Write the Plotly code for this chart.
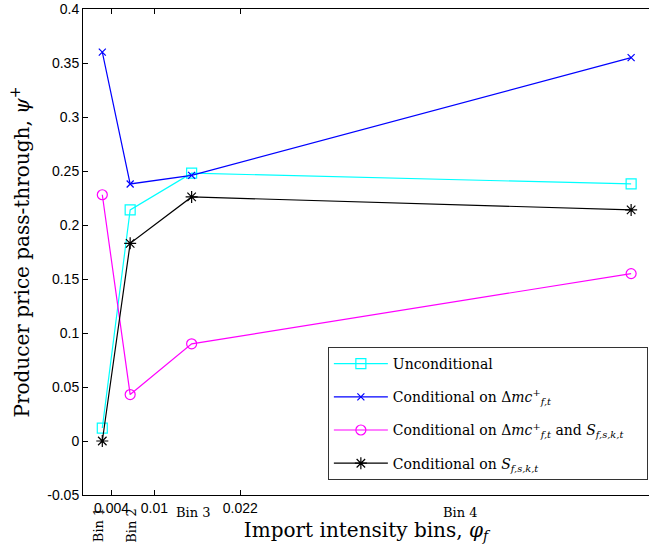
import plotly.graph_objects as go

# Bin positions on the import-intensity axis (phi_f)
bins_x = [0.0027, 0.0066, 0.0152, 0.0767]

# Producer price pass-through estimates per bin
unconditional = [0.012, 0.214, 0.248, 0.238]
cond_mc = [0.360, 0.238, 0.246, 0.355]
cond_mc_s = [0.228, 0.043, 0.090, 0.155]
cond_s = [0.0, 0.183, 0.226, 0.214]

x_tick_vals = [0.004, 0.01, 0.022]
x_tick_text = ["0.004", "0.01", "0.022"]
y_tick_vals = [-0.05, 0, 0.05, 0.1, 0.15, 0.2, 0.25, 0.3, 0.35, 0.4]
y_tick_text = ["-0.05", "0", "0.05", "0.1", "0.15", "0.2", "0.25", "0.3", "0.35", "0.4"]

bin_labels = ["Bin 1", "Bin 2", "Bin 3", "Bin 4"]
bin_label_x = [0.0021, 0.0068, 0.0154, 0.0528]

SERIF = "DejaVu Serif"
SANS = "Liberation Sans"

mc = "Δ<i>mc</i><sup>+</sup><sub><i>f,t</i></sub>"
sfskt = "<i>S</i><sub><i>f,s,k,t</i></sub>"

series = [
    ("Unconditional", unconditional, "#00FFFF", "square-open", 10),
    ("Conditional on " + mc, cond_mc, "#0000FF", "x-thin-open", 7),
    ("Conditional on " + mc + " and " + sfskt + "&nbsp;&nbsp;&nbsp;&nbsp;", cond_mc_s, "#FF00FF", "circle-open", 10),
    ("Conditional on " + sfskt, cond_s, "#000000", "asterisk-open", 10),
]

fig = go.Figure()
for i, (name, vals, color, sym, size) in enumerate(series):
    fig.add_trace(go.Scatter(
        x=bins_x, y=vals, name=name, mode="lines+markers",
        legendgroup=f"g{i}",
        line=dict(color=color, width=1.2),
        marker=dict(symbol=sym, size=size, color=color,
                    line=dict(color=color, width=1.2)),
    ))

# Bin labels under the x axis
for i, (lab, bx) in enumerate(zip(bin_labels, bin_label_x)):
    if i < 2:
        fig.add_annotation(x=bx, xref="x", y=-0.062, yref="paper",
                           text=lab, showarrow=False, textangle=-90,
                           font=dict(family=SERIF, size=13, color="black"),
                           xanchor="center", yanchor="middle")
    else:
        fig.add_annotation(x=bx, xref="x", y=-0.035, yref="paper",
                           text=lab, showarrow=False,
                           font=dict(family=SERIF, size=13, color="black"),
                           xanchor="center", yanchor="middle")

fig.update_layout(
    width=649, height=552,
    margin=dict(l=83, r=0, t=9, b=57),
    paper_bgcolor="white", plot_bgcolor="white",
    showlegend=True,
    legend=dict(
        x=0.998, y=0.3045, xanchor="right", yanchor="top",
        bgcolor="white", bordercolor="#333333", borderwidth=1,
        font=dict(family=SERIF, size=14, color="black"),
        tracegroupgap=12, traceorder="grouped", itemwidth=54,
    ),
    xaxis=dict(
        range=[0, 0.0792], tickvals=x_tick_vals, ticktext=x_tick_text,
        ticks="inside", ticklen=5, tickcolor="black",
        showline=True, linecolor="black", linewidth=1, mirror="ticks",
        showgrid=False, zeroline=False,
        tickfont=dict(family=SANS, size=14, color="black"),
        title=dict(text="Import intensity bins, <i>φ</i><sub><i>f</i></sub>",
                   font=dict(family=SERIF, size=20, color="black"), standoff=8),
    ),
    yaxis=dict(
        range=[-0.05, 0.4], tickvals=y_tick_vals, ticktext=y_tick_text,
        ticks="inside", ticklen=5, tickcolor="black",
        showline=True, linecolor="black", linewidth=1, mirror=False,
        showgrid=False, zeroline=False,
        tickfont=dict(family=SANS, size=14, color="black"),
        title=dict(text="Producer price pass-through, <i>ψ</i><sup>+</sup>",
                   font=dict(family=SERIF, size=20, color="black"), standoff=12),
    ),
)

fig.write_html("out.html")
